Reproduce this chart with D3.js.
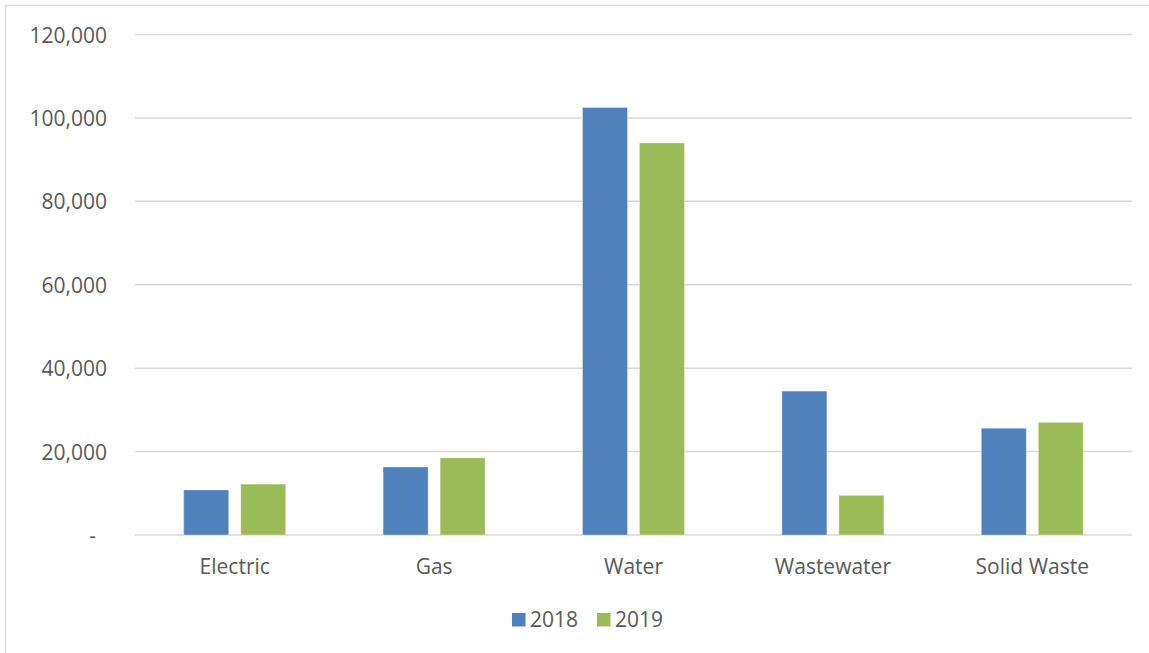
<!DOCTYPE html>
<html lang="en">
<head>
  <meta charset="UTF-8">
  <title>Utility chart</title>
  <style>
    body { margin: 0; background: #fff; }
    text { font-family: "Open Sans", sans-serif; fill: #595959; }
  </style>
</head>
<body>
  <div id="chart"></div>
  <script src="https://d3js.org/d3.v7.min.js"></script>
  <script>
    // data
    var categories = ["Electric", "Gas", "Water", "Wastewater", "Solid Waste"];
    var series = ["2018", "2019"];
    var values2018 = [10800, 16300, 102500, 34500, 25600];
    var values2019 = [12200, 18500, 94000, 9500, 27000];
    var yTicks = [0, 20000, 40000, 60000, 80000, 100000, 120000];
    var colors = ["#4F81BD", "#9BBB59"];

    var width = 1149, height = 653;
    var plotLeft = 135, plotRight = 1132, plotTop = 34.5, plotBottom = 535;
    var fontSize = "21px";

    var svg = d3.select("#chart").append("svg")
        .attr("width", width)
        .attr("height", height);

    // chart area border (right and bottom edges fall off the picture)
    svg.append("rect")
        .attr("x", 5.5).attr("y", 5.5)
        .attr("width", 1160).attr("height", 670)
        .attr("fill", "none")
        .attr("stroke", "#d9d9d9")
        .attr("stroke-width", 1.5);

    var y = d3.scaleLinear().domain([0, 120000]).range([plotBottom, plotTop]);
    var x0 = d3.scaleBand().domain(categories).range([plotLeft, plotRight]);
    // two bars 45px wide with a 12px gap, centred in each category
    var x1 = d3.scaleBand().domain(series).range([0, 102]).paddingInner(12 / 57);
    var shift = x0.bandwidth() / 2 - 51;

    // gridlines
    svg.append("g").selectAll("line")
        .data(yTicks)
        .enter().append("line")
        .attr("x1", plotLeft).attr("x2", plotRight)
        .attr("y1", d => y(d)).attr("y2", d => y(d))
        .attr("stroke", "#d9d9d9")
        .attr("stroke-width", 1.5);

    // y axis labels
    var yAxis = d3.axisLeft(y)
        .tickValues(yTicks)
        .tickSize(0)
        .tickPadding(0)
        .tickFormat(d => d === 0 ? "-" : d3.format(",")(d));
    var gy = svg.append("g")
        .attr("transform", "translate(107,0)")
        .call(yAxis);
    gy.select(".domain").remove();
    gy.selectAll("text")
        .style("font-size", fontSize)
        .style("font-family", "'Open Sans', sans-serif")
        .attr("fill", "#595959")
        .attr("dy", "0.36em")
        .attr("dx", d => d === 0 ? -11 : 0);

    // bars
    var rows = categories.map((c, i) => ({ cat: c, vals: [values2018[i], values2019[i]] }));
    var groups = svg.append("g").selectAll("g")
        .data(rows)
        .enter().append("g")
        .attr("transform", d => "translate(" + (x0(d.cat) + shift) + ",0)");
    groups.selectAll("rect")
        .data(d => d.vals.map((v, j) => ({ key: series[j], v: v, j: j })))
        .enter().append("rect")
        .attr("x", d => x1(d.key))
        .attr("width", x1.bandwidth())
        .attr("y", d => y(d.v))
        .attr("height", d => y(0) - y(d.v))
        .attr("fill", d => colors[d.j])
        .attr("stroke", "rgba(255,255,255,0.35)")
        .attr("stroke-width", 1);

    // x axis labels
    var xAxis = d3.axisBottom(x0).tickSize(0).tickPadding(0);
    var gx = svg.append("g")
        .attr("transform", "translate(0,566)")
        .call(xAxis);
    gx.select(".domain").remove();
    gx.selectAll("text")
        .style("font-size", fontSize)
        .style("font-family", "'Open Sans', sans-serif")
        .attr("fill", "#595959")
        .attr("y", 0)
        .attr("dy", "0.36em");

    // legend
    var legendX = [512, 597];
    var legend = svg.append("g").selectAll("g")
        .data(series)
        .enter().append("g")
        .attr("transform", (d, i) => "translate(" + legendX[i] + ",613)");
    legend.append("rect")
        .attr("width", 13.5).attr("height", 13.5)
        .attr("fill", (d, i) => colors[i]);
    legend.append("text")
        .attr("x", 18).attr("y", 14)
        .style("font-size", fontSize)
        .text(d => d);
  </script>
</body>
</html>
